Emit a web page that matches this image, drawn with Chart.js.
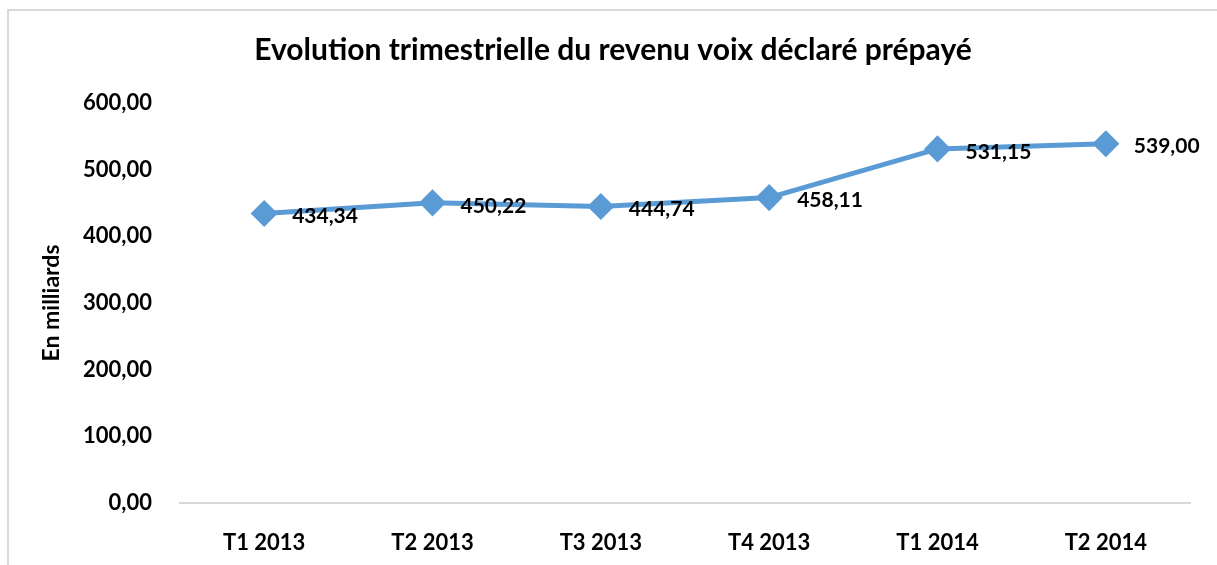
<!DOCTYPE html>
<html>
<head>
<meta charset="utf-8">
<script src="https://cdn.jsdelivr.net/npm/chart.js@4"></script>
<style>
  html, body { margin: 0; padding: 0; background: #fff; }
  #wrap { position: relative; width: 1217px; height: 565px; }
</style>
</head>
<body>
<div id="wrap"><canvas id="myChart" width="1217" height="565"></canvas></div>
<script>
const categories = ["T1 2013", "T2 2013", "T3 2013", "T4 2013", "T1 2014", "T2 2014"];
const revenu = [434.34, 450.22, 444.74, 458.11, 531.15, 539.0];
const yTicks = [0, 100, 200, 300, 400, 500, 600];

const titleText = "Evolution trimestrielle du revenu voix déclaré prépayé";
const yTitle = "En milliards";
const FONT = "Lato, 'Open Sans', sans-serif";
const blue = "#5B9BD5";

function fr(v) {
  return v.toFixed(2).replace(".", ",");
}

// frame, title, y title and data labels
const extras = {
  id: "extras",
  beforeDraw(chart) {
    const c = chart.ctx;
    c.save();
    c.strokeStyle = "#d9d9d9";
    c.lineWidth = 2;
    c.strokeRect(8, 10, 1240, 570);
    c.restore();
  },
  afterDatasetsDraw(chart) {
    const c = chart.ctx;
    c.save();
    c.fillStyle = "#000";
    c.font = "bold 30px " + FONT;
    c.textAlign = "center";
    c.textBaseline = "middle";
    c.fillText(titleText, 613, 50);

    c.translate(52, 303);
    c.rotate(-Math.PI / 2);
    c.font = "bold 23px " + FONT;
    c.fillText(yTitle, 0, 0);
    c.restore();

    c.save();
    c.font = "bold 21px " + FONT;
    c.fillStyle = "#000";
    c.textAlign = "left";
    c.textBaseline = "middle";
    const meta = chart.getDatasetMeta(0);
    meta.data.forEach((pt, i) => {
      c.fillText(fr(revenu[i]), pt.x + 28, pt.y + 3);
    });
    c.restore();
  }
};

var ctx = document.getElementById("myChart").getContext("2d");

var chart1 = new Chart(ctx, {
  type: "line",
  data: {
    labels: categories,
    datasets: [
      {
        label: "Revenu",
        data: revenu,
        borderColor: blue,
        backgroundColor: blue,
        borderWidth: 5,
        pointStyle: "rectRot",
        pointRadius: 10,
        pointHoverRadius: 10,
        tension: 0,
      },
    ],
  },
  options: {
    responsive: false,
    animation: false,
    layout: { padding: { top: 103, right: 27, left: 0, bottom: 0 } },
    plugins: {
      legend: { display: false },
      tooltip: { enabled: false },
    },
    scales: {
      x: {
        offset: true,
        grid: { display: false },
        border: { color: "#d9d9d9", width: 2 },
        ticks: {
          color: "#000",
          font: { family: FONT, size: 22, weight: "bold" },
          padding: 19,
        },
        afterFit(s) { s.height = 62; },
      },
      y: {
        min: 0,
        max: 600,
        afterBuildTicks(s) { s.ticks = yTicks.map(v => ({ value: v })); },
        grid: { display: false },
        border: { display: false },
        ticks: {
          color: "#000",
          font: { family: FONT, size: 22, weight: "bold" },
          padding: 20,
          callback: (v) => fr(v),
        },
        afterFit(s) { s.width = 180; },
      },
    },
  },
  plugins: [extras],
});
</script>
</body>
</html>
